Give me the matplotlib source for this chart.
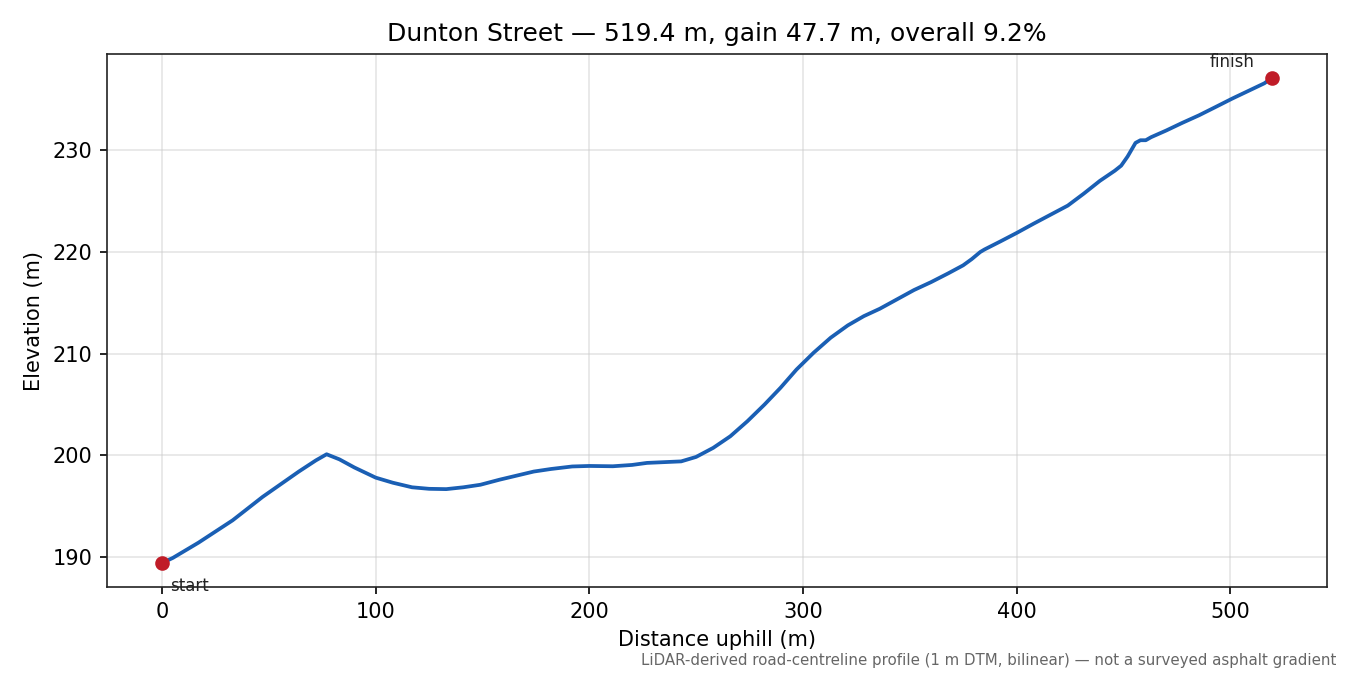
import matplotlib
matplotlib.use("Agg")
import matplotlib.pyplot as plt

title = "Dunton Street — 519.4 m, gain 47.7 m, overall 9.2%"
footer = "LiDAR-derived road-centreline profile (1 m DTM, bilinear) — not a surveyed asphalt gradient"

distance_m = [0, 5, 17, 33, 47, 64, 72, 77, 83, 90, 96, 100, 108, 117, 125, 133,
              141, 149, 158, 166, 174, 182, 192, 200, 211, 220, 227, 243, 250,
              258, 266, 274, 282, 289.5, 297, 305, 313, 321, 328.5, 336, 344,
              352, 360, 368, 375, 379, 383, 385, 392.5, 400, 408, 416, 424,
              431.5, 439, 446, 449, 452, 455.7, 458, 460.5, 463, 470, 477.5,
              485.4, 493, 501, 509, 516, 519.4]
elevation_m = [189.4, 189.9, 191.4, 193.6, 195.9, 198.4, 199.5, 200.1, 199.6,
               198.8, 198.2, 197.8, 197.3, 196.85, 196.7, 196.67, 196.85, 197.1,
               197.6, 198.0, 198.4, 198.65, 198.9, 198.95, 198.92, 199.05,
               199.25, 199.4, 199.84, 200.73, 201.87, 203.35, 204.99, 206.64,
               208.44, 210.09, 211.57, 212.78, 213.69, 214.42, 215.34, 216.26,
               217.04, 217.9, 218.69, 219.3, 220.0, 220.25, 221.05, 221.87,
               222.79, 223.68, 224.57, 225.75, 227.0, 228.0, 228.5, 229.4,
               230.74, 231.0, 231.0, 231.3, 231.95, 232.7, 233.45, 234.25,
               235.1, 235.9, 236.6, 237.1]

line_color = "#1a5fb4"
pt_color = "#c01c28"

fig = plt.figure(figsize=(9, 4.5), dpi=150)
ax = fig.add_subplot(111)
fig.subplots_adjust(left=0.079, right=0.983, top=0.92, bottom=0.13)

ax.plot(distance_m, elevation_m, color=line_color, lw=1.8, zorder=3)
ax.plot([distance_m[0]], [elevation_m[0]], "o", color=pt_color, ms=6, zorder=4)
ax.plot([distance_m[-1]], [elevation_m[-1]], "o", color=pt_color, ms=6, zorder=4)

ax.annotate("start", (distance_m[0], elevation_m[0]), xytext=(4, -6.5),
            textcoords="offset points", ha="left", va="top", fontsize=8,
            color="#222222")
ax.annotate("finish", (distance_m[-1], elevation_m[-1]), xytext=(-8, 3.5),
            textcoords="offset points", ha="right", va="bottom", fontsize=8,
            color="#222222")

ax.set_xticks([0, 100, 200, 300, 400, 500])
ax.set_yticks([190, 200, 210, 220, 230])
ax.grid(True, color="#cccccc", alpha=0.5, lw=0.8)
ax.set_axisbelow(True)
for s in ax.spines.values():
    s.set_color("#222222")

ax.set_title(title, fontsize=12)
ax.set_xlabel("Distance uphill (m)", fontsize=10)
ax.set_ylabel("Elevation (m)", fontsize=10)

fig.text(0.99, 0.011, footer, ha="right", va="bottom", fontsize=7.2, color="#666666")

fig.savefig("out.png", dpi=150)
